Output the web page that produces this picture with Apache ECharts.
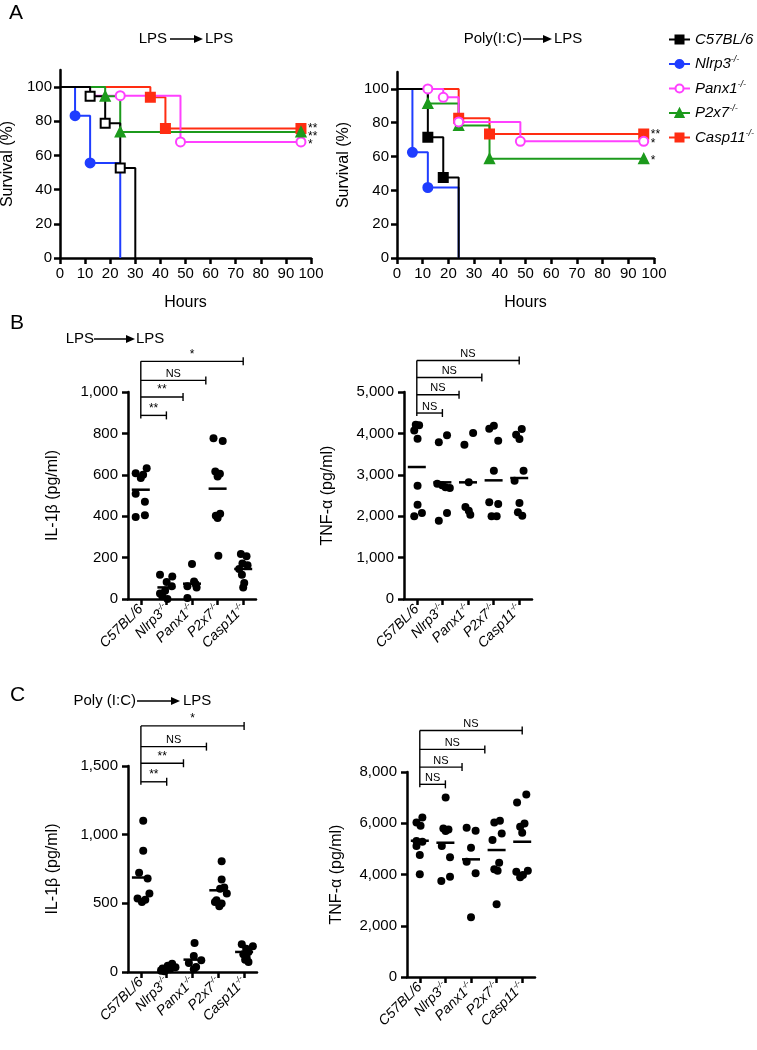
<!DOCTYPE html>
<html><head><meta charset="utf-8">
<script src="https://cdn.jsdelivr.net/npm/echarts@6/dist/echarts.min.js"></script>
<style>html,body{margin:0;padding:0;background:#fff}#c{width:757px;height:1050px}</style>
</head><body><div id="c"></div>
<script>
// ---------------- DATA ----------------
const groups = ['C57BL/6', 'Nlrp3', 'Panx1', 'P2x7', 'Casp11'];
const groupSup = ['', '-/-', '-/-', '-/-', '-/-'];
const hourTicks = [0, 10, 20, 30, 40, 50, 60, 70, 80, 90, 100];
const survTicks = [0, 20, 40, 60, 80, 100];

// Survival, LPS -> LPS  ([hours, % survival]); marks = indices drawn with a marker
const sL_C57 = [[0,100],[12,94.7],[18,78.9],[24,52.6],[30,0]];     const mL_C57 = [1,2,3];
const sL_Nlrp3 = [[0,100],[6,83.3],[12,55.6],[24,0]];             const mL_Nlrp3 = [1,2];
const sL_Panx1 = [[0,100],[12,95],[24,95],[48,67.9],[96,67.9]];   const mL_Panx1 = [2,3,4];
const sL_P2x7 = [[0,100],[18,94.7],[24,73.7],[96,73.7]];          const mL_P2x7 = [1,2,3];
const sL_Casp11 = [[0,100],[36,94],[42,75.8],[96,75.8]];          const mL_Casp11 = [1,2,3];
const starsL = ['**', '**', '*'];
const starsLY = [76.2, 71.3, 66.7];

// Survival, Poly(I:C) -> LPS
const sR_C57 = [[0,100],[12,71.4],[18,47.6],[24,0]];              const mR_C57 = [1,2];
const sR_Nlrp3 = [[0,100],[6,62.5],[12,41.7],[24,41.7],[24,0]];   const mR_Nlrp3 = [1,2];
const sR_Panx1 = [[0,100],[12,100],[18,95],[24,80.5],[48,69],[96,69]]; const mR_Panx1 = [1,2,3,4,5];
const sR_P2x7 = [[0,100],[12,91.3],[24,78.3],[36,58.7],[96,58.7]]; const mR_P2x7 = [1,2,3,4];
const sR_Casp11 = [[0,100],[24,82.6],[36,73.3],[96,73.3]];        const mR_Casp11 = [1,2,3];
const starsR = ['**', '*', '*'];
const starsRY = [73.8, 67.9, 58.4];

// B: LPS -> LPS, IL-1b (pg/ml)
const bIL = [
  [608,584,600,632,508,470,396,404],
  [117,109,82,61,40,26,13,0],
  [169,85,72,61,56,5],
  [777,763,616,605,592,412,402,391,209],
  [217,206,171,163,145,117,77,56]
];
const bILJit = [
  [-0.2,0,0.09,0.23,-0.2,0.16,-0.2,0.16],
  [-0.25,0.23,0.01,0.21,-0.05,-0.25,-0.16,0.04],
  [0,0.08,0.14,-0.18,0.18,-0.18],
  [-0.16,0.2,-0.09,0.09,0,0.1,-0.07,0,0.03],
  [-0.09,0.13,-0.03,0.17,-0.16,-0.05,0.04,0]
];
const bILMean = [528, 56, 74, 533, 145];
const bILTicks = [0, 200, 400, 600, 800, 1000];
const bILBrY = [1148, 1056, 976, 887];
const bILBrLab = ['*', 'NS', '**', '**'];

// B: TNF-a (pg/ml)
const bTNF = [
  [4210,4194,4073,3872,2737,2278,1996,2077],
  [3953,3784,2785,2750,2700,2680,2077,1892],
  [4009,3727,2818,2222,2133,2037],
  [4186,4113,3824,3099,2335,2294,1996,1996],
  [4105,3969,3864,3099,2858,2318,2093,2013]
];
const bTNFJit = [
  [-0.04,0.09,-0.1,0.03,0.03,0.03,-0.1,0.2],
  [0.18,-0.14,-0.2,-0.01,0.12,0.29,0.18,-0.14],
  [0.2,-0.14,0.03,-0.1,0.03,0.09],
  [0.01,-0.17,0.18,0.01,-0.17,0.18,-0.08,0.12],
  [0.1,-0.12,0.01,0.17,-0.18,0.01,-0.05,0.12]
];
const bTNFMean = [3188, 2818, 2818, 2866, 2922];
const bTNFTicks = [0, 1000, 2000, 3000, 4000, 5000];
const bTNFBrY = [5762, 5352, 4934, 4492];
const bTNFBrLab = ['NS', 'NS', 'NS', 'NS'];

// C: Poly(I:C) -> LPS, IL-1b
const cIL = [
  [1101,882,722,680,571,535,527,510],
  [60,45,35,25,20,15,10,5],
  [211,117,85,66,36,20],
  [807,673,615,607,571,522,510,498,479],
  [202,187,170,146,129,104,90,73]
];
const cILJit = [
  [0.09,0.09,-0.07,0.26,0.33,-0.13,0.17,0.04],
  [0.21,0.04,0.34,-0.16,0.13,-0.03,-0.22,-0.09],
  [0.08,0.05,0.34,-0.14,0.14,0.05],
  [0.13,0.13,0.23,0.07,0.33,-0.07,-0.13,0.13,0.04],
  [-0.09,0.34,0.08,0.17,-0.03,0.1,0.04,0.17]
];
const cILMean = [688, 25, 90, 595, 146];
const cILTicks = [0, 500, 1000, 1500];
const cILBrY = [1792, 1641, 1520, 1385];
const cILBrLab = ['*', 'NS', '**', '**'];

// C: TNF-a
const cTNF = [
  [6226,6031,5901,5305,5279,5110,4760,4008],
  [7004,5798,5759,5700,5110,4669,3917,3748],
  [5824,5707,5045,4501,4047,2335],
  [6096,6031,5603,5344,4462,4202,4150,2840],
  [7121,6809,5992,5862,5629,4150,4112,3982,3891]
];
const cTNFJit = [
  [0.1,-0.13,0.03,-0.13,0.1,-0.13,0,0],
  [0.01,-0.08,0.12,0.01,-0.14,0.18,0.18,-0.16],
  [-0.17,0.18,0,-0.17,0.18,0],
  [0.13,-0.09,0.2,-0.16,0.1,-0.09,0.04,0],
  [0.16,-0.2,0.09,-0.08,0,0.22,-0.23,0.03,-0.08]
];
const cTNFMean = [5318, 5240, 4591, 4955, 5279];
const cTNFTicks = [0, 2000, 4000, 6000, 8000];
const cTNFBrY = [9620, 8881, 8192, 7519];
const cTNFBrLab = ['NS', 'NS', 'NS', 'NS'];

const bracketEnds = [4.0, 2.54, 1.65, 1.0];

// ---------------- STYLE / BUILD ----------------
const FONT = '"Liberation Sans", Arial, Helvetica, sans-serif';
const COL = {C57:'#000000', Nlrp3:'#1f3dff', Panx1:'#ff40ff', P2x7:'#1c9a1c', Casp11:'#ff2d12'};
const legendNames = groups;
const axisLineStyle = {color:'#000', width:2.5};

function comma(v){ return String(v).replace(/\B(?=(\d{3})+(?!\d))/g, ','); }
function richName(name){
  const i = groups.indexOf(name);
  return '{i|' + name + '}' + (groupSup[i] ? '{s|' + groupSup[i] + '}' : '');
}

const grids = [
  {left:60, top:70, width:251, height:188, outerBoundsMode:'none', containLabel:false},
  {left:397, top:72, width:257, height:186, outerBoundsMode:'none', containLabel:false},
  {left:128, top:392, width:128, height:207, outerBoundsMode:'none', containLabel:false},
  {left:404, top:392, width:128, height:207, outerBoundsMode:'none', containLabel:false},
  {left:128, top:766, width:129, height:206, outerBoundsMode:'none', containLabel:false},
  {left:407, top:772, width:128, height:205, outerBoundsMode:'none', containLabel:false}
];

const xAxis = [], yAxis = [], series = [];

// Survival axes
[0,1].forEach(g => {
  xAxis.push({type:'value', gridIndex:g, min:0, max:100, interval:10, name:'Hours', nameLocation:'middle', nameGap:37,
    nameTextStyle:{fontSize:16, color:'#000', fontFamily:FONT},
    axisLine:{show:true, onZero:false, lineStyle:axisLineStyle},
    axisTick:{show:true, length:6, lineStyle:{width:2.5, color:'#000'}},
    axisLabel:{fontSize:15, color:'#000', fontFamily:FONT, margin:8},
    splitLine:{show:false}});
  yAxis.push({type:'value', gridIndex:g, min:0, max:110, interval:20, name:'Survival (%)', nameLocation:'middle', nameGap:g===0?44:45,
    nameTextStyle:{fontSize:16, color:'#000', fontFamily:FONT},
    axisLine:{show:true, onZero:false, lineStyle:axisLineStyle},
    axisTick:{show:true, length:6, lineStyle:{width:2.5, color:'#000'}, customValues:survTicks},
    axisLabel:{fontSize:15, color:'#000', fontFamily:FONT, margin:8, customValues:survTicks, formatter:v => v > 100 ? '' : String(v)},
    splitLine:{show:false}});
});

function survSeries(name, pts, marks, color, symbol, g){
  return {type:'line', name:name, xAxisIndex:g, yAxisIndex:g, step:'end', symbol:symbol, symbolSize:9,
    showAllSymbol:true, clip:false, z:3,
    data: pts.map((p,i) => ({value:p, symbol: marks.indexOf(i) >= 0 ? symbol : 'none'})),
    lineStyle:{color:color, width:2}, itemStyle:{color:color, borderColor:color, borderWidth:2, opacity:1}, emphasis:{disabled:true}};
}
// Right panel first (legend takes icon style from it); black drawn last on top
series.push(survSeries('Casp11', sR_Casp11, mR_Casp11, COL.Casp11, 'rect', 1));
series.push(survSeries('P2x7', sR_P2x7, mR_P2x7, COL.P2x7, 'triangle', 1));
series.push(survSeries('Panx1', sR_Panx1, mR_Panx1, COL.Panx1, 'emptyCircle', 1));
series.push(survSeries('Nlrp3', sR_Nlrp3, mR_Nlrp3, COL.Nlrp3, 'circle', 1));
series.push(survSeries('C57BL/6', sR_C57, mR_C57, COL.C57, 'rect', 1));
series.push(survSeries('Casp11', sL_Casp11, mL_Casp11, COL.Casp11, 'rect', 0));
series.push(survSeries('Panx1', sL_Panx1, mL_Panx1, COL.Panx1, 'emptyCircle', 0));
series.push(survSeries('P2x7', sL_P2x7, mL_P2x7, COL.P2x7, 'triangle', 0));
series.push(survSeries('Nlrp3', sL_Nlrp3, mL_Nlrp3, COL.Nlrp3, 'circle', 0));
series.push(survSeries('C57BL/6', sL_C57, mL_C57, COL.C57, 'emptyRect', 0));

function starSeries(labels, ys, g){
  return {type:'custom', xAxisIndex:g, yAxisIndex:g, silent:true, z:5,
    data: ys.map(y => [96, y]),
    renderItem: function(params, api){
      const p = api.coord([api.value(0), api.value(1)]);
      return {type:'text', style:{text:labels[params.dataIndex], x:p[0]+7, y:p[1]+1, textAlign:'left', textVerticalAlign:'middle',
        font:'12px ' + FONT, fill:'#000'}};
    }};
}
series.push(starSeries(starsL, starsLY, 0));
series.push(starSeries(starsR, starsRY, 1));

// Dot plots
function dotPanel(g, vals, jit, means, ticks, yName, nameGap, brY, brLab){
  const cx = xAxis.length, vx = cx + 1;
  xAxis.push({type:'category', gridIndex:g, data:groups, boundaryGap:true,
    axisLine:{show:true, onZero:false, lineStyle:axisLineStyle},
    axisTick:{show:true, alignWithLabel:true, length:6, lineStyle:{width:2.5, color:'#000'}},
    axisLabel:{rotate:45, margin:8, interval:0, color:'#000', fontFamily:FONT, fontStyle:'italic', fontSize:14,
      formatter:(v) => richName(v),
      rich:{i:{fontSize:14, fontStyle:'italic', fontFamily:FONT, color:'#000', lineHeight:16},
            s:{fontSize:8, fontStyle:'italic', fontFamily:FONT, color:'#000', verticalAlign:'top', lineHeight:16}}},
    splitLine:{show:false}});
  xAxis.push({type:'value', gridIndex:g, min:-0.5, max:4.5, show:false, splitLine:{show:false}});
  const yi = g;
  const step = ticks[1] - ticks[0];
  yAxis.push({type:'value', gridIndex:g, min:0, max:ticks[ticks.length-1], interval:step, name:yName, nameLocation:'middle', nameGap:nameGap,
    nameTextStyle:{fontSize:16, color:'#000', fontFamily:FONT},
    axisLine:{show:true, onZero:false, lineStyle:axisLineStyle},
    axisTick:{show:true, length:6, lineStyle:{width:2.5, color:'#000'}},
    axisLabel:{fontSize:15, color:'#000', fontFamily:FONT, margin:10, formatter:comma},
    splitLine:{show:false}});
  const pts = [];
  vals.forEach((arr, gi) => arr.forEach((v, k) => pts.push([gi + jit[gi][k], v])));
  series.push({type:'scatter', xAxisIndex:vx, yAxisIndex:yi, data:pts, symbol:'circle', symbolSize:8,
    itemStyle:{color:'#000', opacity:1}, silent:true, z:3});
  series.push({type:'scatter', xAxisIndex:vx, yAxisIndex:yi, data:means.map((m, gi) => [gi, m]), symbol:'rect',
    symbolSize:[18, 2.5], itemStyle:{color:'#000', opacity:1}, silent:true, z:4});
  series.push({type:'custom', xAxisIndex:vx, yAxisIndex:yi, silent:true, z:5,
    data: brY.map((y, k) => [bracketEnds[k], y]),
    renderItem: function(params, api){
      const k = params.dataIndex;
      const y = api.value(1);
      const p0 = api.coord([0, y]);
      const p1 = api.coord([api.value(0), y]);
      const st = {stroke:'#000', lineWidth:1.4};
      const ch = [
        {type:'line', shape:{x1:p0[0], y1:p0[1], x2:p1[0], y2:p1[1]}, style:st},
        {type:'line', shape:{x1:p1[0], y1:p1[1]-4, x2:p1[0], y2:p1[1]+4}, style:st},
        {type:'text', style:{text:brLab[k], x:(p0[0]+p1[0])/2, y:p0[1]-1, textAlign:'center', textVerticalAlign:'bottom',
          font:(brLab[k]==='NS' ? '11px ' : '12px ') + FONT, fill:'#000'}}
      ];
      if (k === 0) {
        const pb = api.coord([0, brY[brY.length-1]]);
        ch.push({type:'line', shape:{x1:p0[0], y1:p0[1], x2:pb[0], y2:pb[1]+3}, style:st});
      }
      return {type:'group', children:ch};
    }});
}
dotPanel(2, bIL, bILJit, bILMean, bILTicks, 'IL-1β (pg/ml)', 67, bILBrY, bILBrLab);
dotPanel(3, bTNF, bTNFJit, bTNFMean, bTNFTicks, 'TNF-α (pg/ml)', 68, bTNFBrY, bTNFBrLab);
dotPanel(4, cIL, cILJit, cILMean, cILTicks, 'IL-1β (pg/ml)', 67, cILBrY, cILBrLab);
dotPanel(5, cTNF, cTNFJit, cTNFMean, cTNFTicks, 'TNF-α (pg/ml)', 62, cTNFBrY, cTNFBrLab);

// Titles with arrows, panel letters
function arrowTitle(leftText, rightText, xl, x1, x2, xr, y){
  return [
    {type:'text', style:{text:leftText, x:xl, y:y, textAlign:'right', textVerticalAlign:'middle', font:'15px ' + FONT, fill:'#000'}},
    {type:'line', shape:{x1:x1, y1:y, x2:x2-7, y2:y}, style:{stroke:'#000', lineWidth:1.5}},
    {type:'polygon', shape:{points:[[x2-9,y-4],[x2,y],[x2-9,y+4]]}, style:{fill:'#000'}},
    {type:'text', style:{text:rightText, x:xr, y:y, textAlign:'left', textVerticalAlign:'middle', font:'15px ' + FONT, fill:'#000'}}
  ];
}
function letter(t, x, y){
  return {type:'text', style:{text:t, x:x, y:y, textAlign:'left', textVerticalAlign:'middle', font:'21px ' + FONT, fill:'#000'}};
}
const graphic = [].concat(
  arrowTitle('LPS', 'LPS', 167, 170, 203, 205, 39),
  arrowTitle('Poly(I:C)', 'LPS', 522, 523, 552, 554, 39),
  arrowTitle('LPS', 'LPS', 94, 94, 135, 136, 339),
  arrowTitle('Poly (I:C)', 'LPS', 136, 137, 180, 183, 701),
  [letter('A', 9, 13), letter('B', 10, 323), letter('C', 10, 695)]
);

const option = {
  animation:false,
  backgroundColor:'#fff',
  grid: grids,
  xAxis: xAxis,
  yAxis: yAxis,
  legend: {
    data: legendNames, orient:'vertical', left:663, top:27, itemWidth:21, itemHeight:10, itemGap:8,
    selectedMode:false,
    formatter: (n) => richName(n),
    textStyle:{fontSize:15, fontStyle:'italic', fontFamily:FONT, color:'#000',
      rich:{i:{fontSize:15, fontStyle:'italic', fontFamily:FONT, color:'#000', lineHeight:18},
            s:{fontSize:9, fontStyle:'italic', fontFamily:FONT, color:'#000', verticalAlign:'top', lineHeight:18}}}
  },
  graphic: graphic,
  series: series
};
const chart = echarts.init(document.getElementById('c'), null, {renderer:'canvas'});
chart.setOption(option);
</script></body></html>
